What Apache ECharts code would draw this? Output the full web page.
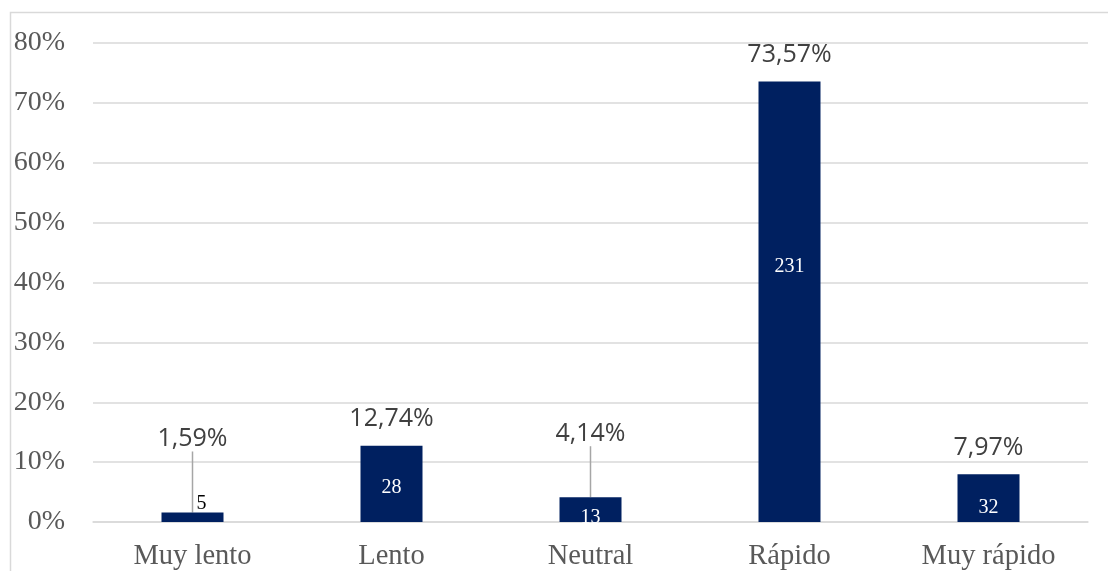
<!DOCTYPE html>
<html>
<head>
<meta charset="utf-8">
<script src="https://cdn.jsdelivr.net/npm/echarts@6/dist/echarts.min.js"></script>
<style>
html,body{margin:0;padding:0;background:#fff;}
#chart{width:1108px;height:571px;}
</style>
</head>
<body>
<div id="chart"></div>
<script>
const categories = ['Muy lento', 'Lento', 'Neutral', 'Rápido', 'Muy rápido'];
const percents = [1.59, 12.74, 4.14, 73.57, 7.97];
const counts = [5, 28, 13, 231, 32];
const yTicks = [0, 10, 20, 30, 40, 50, 60, 70, 80];

// style tweaks per category (label placement only)
const pctLift = {0: -47, 2: -37};
const countOffsets = [[9, -8], [0, -24], [0, 6], [0, -245], [0, -4]];
const countColors = ['#000000', '#ffffff', '#ffffff', '#ffffff', '#ffffff'];

const chart = echarts.init(document.getElementById('chart'), null, {renderer: 'canvas'});
const fmtPct = v => v.toFixed(2).replace('.', ',') + '%';

chart.setOption({
  animation: false,
  backgroundColor: '#ffffff',
  graphic: [{
    type: 'rect', silent: true, z: -10,
    shape: {x: 10.5, y: 12.5, width: 1300, height: 800},
    style: {fill: 'none', stroke: '#d9d9d9', lineWidth: 1.5}
  }],
  grid: {left: 93, right: 20, top: 43, bottom: 48, containLabel: false},
  xAxis: {
    type: 'category',
    data: categories,
    axisLine: {show: true, lineStyle: {color: '#d9d9d9', width: 1.5}},
    axisTick: {show: false},
    axisLabel: {color: '#595959', fontFamily: 'Liberation Serif', fontSize: 28.5, margin: 20}
  },
  yAxis: {
    type: 'value',
    min: yTicks[0], max: yTicks[yTicks.length - 1], interval: 10,
    axisLine: {show: false}, axisTick: {show: false},
    splitLine: {lineStyle: {color: '#d9d9d9', width: 1.5}},
    axisLabel: {color: '#595959', fontFamily: 'Liberation Serif', fontSize: 28, margin: 28,
      formatter: v => v + '%'}
  },
  series: [{
    type: 'bar',
    data: percents.map((v, i) => ({
      value: v,
      labelLine: {show: pctLift[i] !== undefined}
    })),
    barWidth: 62,
    itemStyle: {color: '#002060'},
    label: {
      show: true, position: 'top', distance: 14,
      color: '#404040', fontFamily: 'Open Sans', fontSize: 25,
      formatter: p => fmtPct(p.value)
    },
    labelLine: {show: false, lineStyle: {color: '#a6a6a6', width: 1.5}},
    labelLayout: p => (pctLift[p.dataIndex] !== undefined ? {dy: pctLift[p.dataIndex]} : {})
  }, {
    type: 'bar',
    data: percents.map((v, i) => ({
      value: v,
      label: {offset: countOffsets[i], color: countColors[i]}
    })),
    barWidth: 62,
    barGap: '-100%',
    silent: true,
    z: 3,
    itemStyle: {color: 'rgba(0,0,0,0)'},
    label: {
      show: true, position: 'insideBottom', distance: 0,
      fontFamily: 'Liberation Serif', fontSize: 20,
      formatter: p => String(counts[p.dataIndex])
    }
  }]
});
</script>
</body>
</html>
